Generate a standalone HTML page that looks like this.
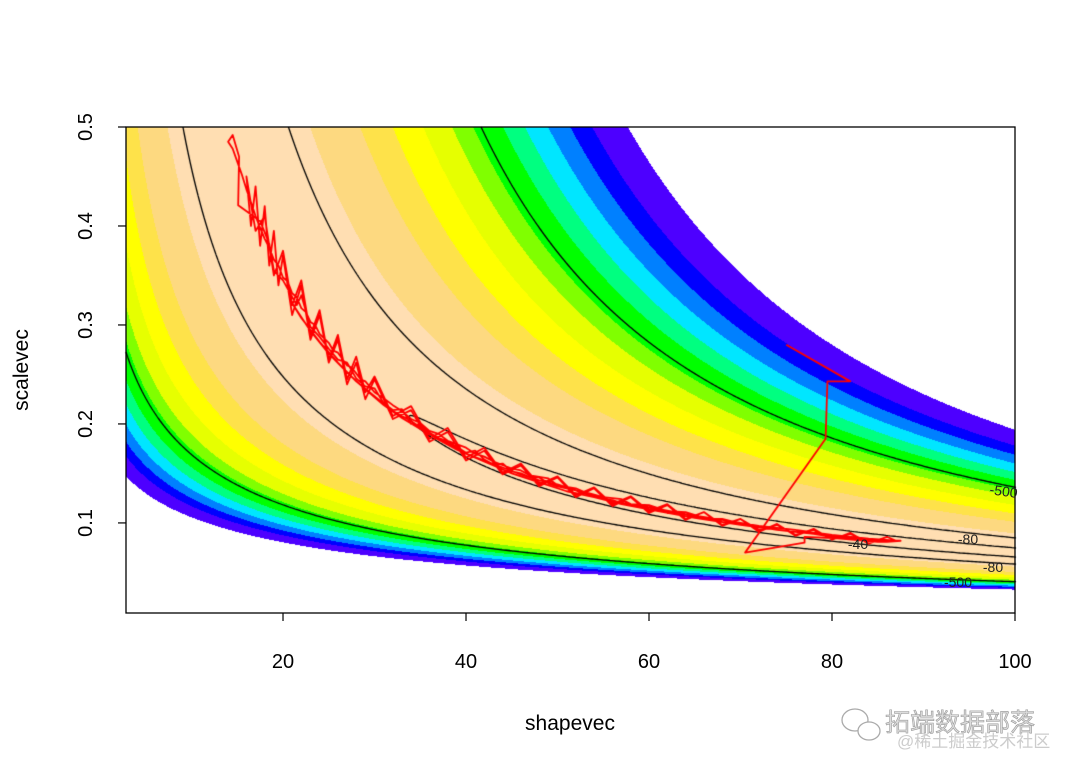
<!DOCTYPE html>
<html><head><meta charset="utf-8">
<style>
html,body{margin:0;padding:0;background:#fff;}
#wrap{position:relative;width:1080px;height:771px;overflow:hidden;font-family:"Liberation Sans",sans-serif;}
canvas{position:absolute;left:0;top:0;}
svg{position:absolute;left:0;top:0;}
</style></head>
<body>
<div id="wrap">
<canvas id="cv" width="1080" height="771"></canvas>
<svg id="sv" width="1080" height="771"></svg>
</div>
<script>
// ---- data ----
const nObs = 26, meanX = 7, meanLogX = 1.941;
const contourOffset = -7;
const bandBreaks = [-99,-183,-253,-328,-407,-469,-562,-635,-715,-795,-877,-1017];
const bandColors = ["#FFDEB2","#FDD980","#FEE24A","#FFFF00","#E6FF00","#80FF00","#00FF00","#00FF80","#00E6FF","#0080FF","#0000FF","#4D00FF"];
const contourLevels = [-500,-80,-40];
const xTicks = [20,40,60,80,100];
const yTicks = [0.1,0.2,0.3,0.4,0.5];
const shapeTrace = [75,82,79.5,79.3,70.5,77,77,87,85,80,
84,81,78,76,73,71,68,66,64,62,60,58,57,55,53,52,50,49,47,46,45,43,42,41,40,38,37,36,35,34,33,32,31,30,29,28.5,27.5,27,26,25.5,25,24,23.5,23,22.5,22,21.5,21,20.5,20,19.5,19,18.5,18,17.5,17,16.5,16,15.5,15,14.5,14,14.5,15.2,
15.1,17.5,18.5,19,20,21.5,22,23,24,25,26,27,28,29,30,31,32,33,34,35,36,37,38,39,40,41,42,43,44,45,46,47,48,49,50,51,52,53,54,55,56,57,58,59,60,61,62,63,64,65,66,68,70,72,74,76,78,80,82,84,86,87.5,
85,82,79,75,70,65,61,57,54,51,48,45,43,41,39,37,35,33,31,29,27,25,23,21,22,24,26,28,30,32,34,36,38,40,42,44,46,48,50,53,56,60,64,68,72,76,80,84,87,
86,84,82,80,78,76,74,72,70,68,66,64,62,60,58,56,54,52,50,48,46,44,42,40,38,36,34,32,30,29,28,27,26,25,24,23,22,21,20,19.5,19,18.5,18,17.5,17,16.5,16,
17,18,19,20,21,22,23,24,25,26,27,28,29,30,32,34,36,38,40,42,44,46,48,50,52,54,56,58,60,62,64,66,68,70,72,74,76,78,80,82,84];
const scaleTrace = [0.280,0.243,0.243,0.185,0.070,0.080,0.086,0.082,0.081,0.085,
.083,.087,.089,.093,.096,.097,.104,.105,.111,.112,.118,.119,.124,.126,.131,.135,.138,.145,.148,.153,.155,.162,.167,.170,.176,.183,.190,.193,.201,.205,.213,.219,.226,.232,.243,.245,.257,.259,.272,.274,.282,.291,.300,.303,.313,.317,.328,.332,.344,.348,.360,.366,.378,.387,.398,.410,.424,.437,.452,.465,.478,.485,.492,.470,
.421,.405,.382,.355,.345,.320,.330,.298,.288,.276,.265,.262,.246,.238,.236,.221,.214,.215,.200,.199,.191,.186,.182,.177,.171,.173,.164,.159,.160,.152,.150,.146,.146,.140,.137,.135,.133,.128,.128,.124,.123,.120,.118,.117,.114,.114,.110,.110,.107,.106,.105,.101,.099,.096,.093,.091,.089,.086,.084,.082,.081,.082,
.083,.085,.088,.092,.098,.105,.112,.119,.126,.132,.141,.150,.158,.166,.174,.184,.195,.206,.219,.235,.252,.271,.294,.322,.307,.283,.262,.243,.228,.213,.203,.190,.180,.170,.163,.156,.149,.143,.139,.130,.122,.116,.109,.103,.097,.093,.088,.084,.082,
.086,.079,.090,.083,.094,.087,.099,.091,.104,.097,.111,.103,.118,.110,.126,.117,.135,.126,.146,.137,.158,.149,.173,.163,.192,.182,.214,.205,.245,.225,.262,.240,.285,.262,.310,.285,.340,.310,.370,.340,.395,.360,.420,.380,.440,.400,.450,
.395,.410,.350,.375,.320,.345,.290,.315,.265,.290,.245,.268,.232,.248,.208,.218,.185,.196,.166,.176,.151,.160,.139,.147,.128,.136,.119,.127,.112,.119,.104,.111,.098,.104,.093,.098,.088,.093,.084,.089,.081];

// ---- axes ----
const PL=126, PR=1015, PT=127, PB=613;
const XMIN=2.84, XMAX=100, YMIN=0.009, YMAX=0.5;
function xs(k){return PL+(k-XMIN)/(XMAX-XMIN)*(PR-PL);}
function ys(t){return PB-(t-YMIN)/(YMAX-YMIN)*(PB-PT);}
function xinv(px){return XMIN+(px-PL)/(PR-PL)*(XMAX-XMIN);}
function yinv(py){return YMIN+(PB-py)/(PB-PT)*(YMAX-YMIN);}
function lgamma(z){
  const g=7,c=[0.99999999999980993,676.5203681218851,-1259.1392167224028,771.32342877765313,-176.61502916214059,12.507343278686905,-0.13857109526572012,9.9843695780195716e-6,1.5056327351493116e-7];
  z-=1;let x=c[0];for(let i=1;i<g+2;i++)x+=c[i]/(z+i);
  const t=z+g+0.5;return 0.5*Math.log(2*Math.PI)+(z+0.5)*Math.log(t)-t+Math.log(x);
}
function loglik(k,t){return nObs*((k-1)*meanLogX-meanX/t-k*Math.log(t)-lgamma(k));}

const cv=document.getElementById('cv');const ctx=cv.getContext('2d');
ctx.fillStyle='#fff';ctx.fillRect(0,0,1080,771);
const W=PR-PL,H=PB-PT;
const img=ctx.createImageData(W,H);
function hex(c){return [parseInt(c.substr(1,2),16),parseInt(c.substr(3,2),16),parseInt(c.substr(5,2),16)];}
const rgb=bandColors.map(hex);
for(let i=0;i<W;i++){
  const k=xinv(PL+i+0.5);const lg=lgamma(k);
  for(let j=0;j<H;j++){
    const t=yinv(PT+j+0.5);
    const v=nObs*((k-1)*meanLogX-meanX/t-k*Math.log(t)-lg);
    let b=0;while(b<bandBreaks.length&&v<bandBreaks[b])b++;
    const p=(j*W+i)*4;
    if(b>=bandBreaks.length){img.data[p]=255;img.data[p+1]=255;img.data[p+2]=255;}
    else{img.data[p]=rgb[b][0];img.data[p+1]=rgb[b][1];img.data[p+2]=rgb[b][2];}
    img.data[p+3]=255;
  }
}
ctx.putImageData(img,PL,PT);

// contours (marching squares)
const S=2,nx=Math.ceil(W/S)+1,ny=Math.ceil(H/S)+1;
const grid=[];
for(let i=0;i<nx;i++){grid.push([]);const k=xinv(PL+i*S);for(let j=0;j<ny;j++)grid[i].push(loglik(k,yinv(PT+j*S))+contourOffset);}
ctx.strokeStyle='#000';ctx.lineWidth=1.3;ctx.beginPath();
contourLevels.forEach(L=>{
  for(let i=0;i<nx-1;i++)for(let j=0;j<ny-1;j++){
    const a=grid[i][j],b=grid[i+1][j],c=grid[i+1][j+1],d=grid[i][j+1];
    const x0=PL+i*S,y0=PT+j*S,pts=[];
    function e(v1,v2,xa,ya,xb,yb){if((v1-L)*(v2-L)<0){const f=(L-v1)/(v2-v1);pts.push([xa+f*(xb-xa),ya+f*(yb-ya)]);}}
    e(a,b,x0,y0,x0+S,y0);e(b,c,x0+S,y0,x0+S,y0+S);e(c,d,x0+S,y0+S,x0,y0+S);e(d,a,x0,y0+S,x0,y0);
    for(let q=0;q+1<pts.length;q+=2){ctx.moveTo(pts[q][0],pts[q][1]);ctx.lineTo(pts[q+1][0],pts[q+1][1]);}
  }
});
ctx.stroke();

// MCMC trace
ctx.save();ctx.beginPath();ctx.rect(PL,PT,W,H);ctx.clip();
ctx.strokeStyle='#FF0000';ctx.lineWidth=1.8;ctx.lineJoin='round';ctx.beginPath();
for(let i=0;i<shapeTrace.length;i++){const X=xs(shapeTrace[i]),Y=ys(scaleTrace[i]);if(i===0)ctx.moveTo(X,Y);else ctx.lineTo(X,Y);}
ctx.stroke();ctx.restore();

// ---- SVG overlay ----
const NS='http://www.w3.org/2000/svg';const sv=document.getElementById('sv');
function mk(tag,attrs,txt){const el=document.createElementNS(NS,tag);for(const a in attrs)el.setAttribute(a,attrs[a]);if(txt!==undefined)el.textContent=txt;sv.appendChild(el);return el;}
const box=mk('rect',{x:PL,y:PT,width:W,height:H,fill:'none',stroke:'#000','stroke-width':1.3});


xTicks.forEach(v=>{
  const t=mk('line',{x1:xs(v),x2:xs(v),y1:PB,y2:PB+8,stroke:'#000','stroke-width':1.2});
  
  
  const l=mk('text',{x:xs(v),y:668,'text-anchor':'middle','font-size':20,fill:'#000'},String(v));
  
  
});
yTicks.forEach(v=>{
  const t=mk('line',{x1:PL-8,x2:PL,y1:ys(v),y2:ys(v),stroke:'#000','stroke-width':1.2});
  
  
  const l=mk('text',{x:0,y:0,'text-anchor':'middle','font-size':20,fill:'#000',transform:'translate(92,'+ys(v)+') rotate(-90)'},v.toFixed(1));
  
  
});
const xt=mk('text',{x:570,y:730,'text-anchor':'middle','font-size':21,fill:'#000'},'shapevec');


const yt=mk('text',{x:0,y:0,'text-anchor':'middle','font-size':21,fill:'#000',transform:'translate(28,370) rotate(-90)'},'scalevec');


const labs=[['-500',1003,496,8],['-80',968,544,0],['-80',993,572,0],['-500',958,587,0],['-40',858,549,0]];
labs.forEach(a=>{
  const l=mk('text',{x:a[1],y:a[2],'text-anchor':'middle','font-size':14,fill:'#222',transform:'rotate('+a[3]+' '+a[1]+' '+a[2]+')'},a[0]);
  
  
});
const wm=mk('text',{x:885,y:731,'font-size':25,fill:'#ddd',stroke:'#999','stroke-width':0.6,'font-family':'"Liberation Sans","Noto Sans CJK SC",sans-serif'},'拓端数据部落');


const wm2=mk('text',{x:897,y:747,'font-size':17,fill:'#ccc','font-family':'"Liberation Sans","Noto Sans CJK SC",sans-serif'},'@稀土掘金技术社区');


const ic1=mk('ellipse',{cx:855,cy:720,rx:13,ry:11,fill:'none',stroke:'#aaa','stroke-width':1.3});


const ic2=mk('ellipse',{cx:869,cy:731,rx:11,ry:9,fill:'#fff',stroke:'#aaa','stroke-width':1.3});


</script>
</body></html>
